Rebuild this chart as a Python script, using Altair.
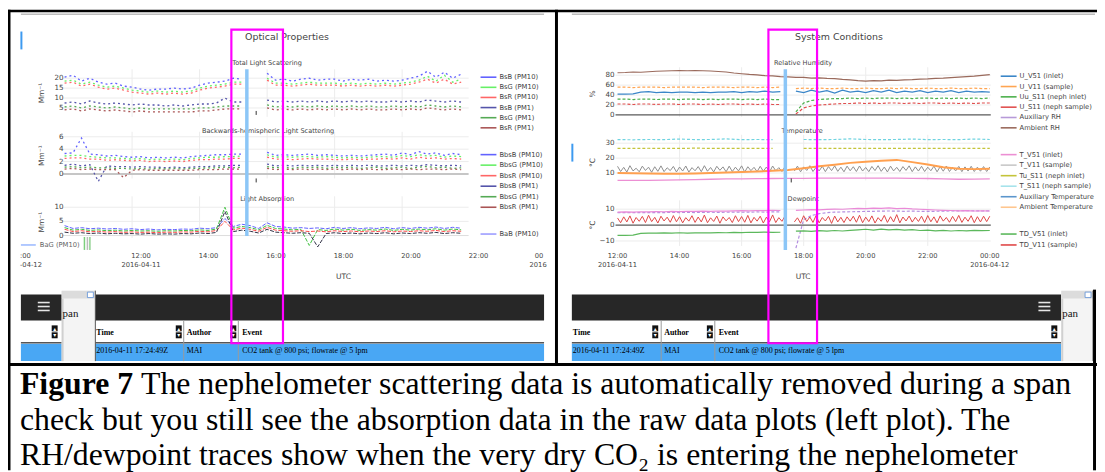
import altair as alt
import pandas as pd

# ===================== values =====================
# ---- left panel "Optical Properties": hours UTC (2016-04-11), one value / 15 min
T_OPT = [10.0 + 0.25 * i for i in range(48)]

SCAT_NAMES = ["BsB (PM10)", "BsG (PM10)", "BsR (PM10)", "BsB (PM1)", "BsG (PM1)", "BsR (PM1)"]
BSC_NAMES = ["BbsB (PM10)", "BbsG (PM10)", "BbsR (PM10)", "BbsB (PM1)", "BbsG (PM1)", "BbsR (PM1)"]
OPT_COLORS = ["#6262ff", "#66f066", "#ff6666", "#5555aa", "#55aa55", "#aa5555"]
ABS_NAMES = ["BaB (PM10)", "BaG (PM10)", "BaR (PM10)", "BaB (PM1)"]
ABS_COLORS = ["#6262ff", "#3fbf3f", "#ff4a4a", "#2f2f45"]

BsB_PM10 = [20.5, 21.5, 18.5, 20.0, 18.0, 17.0, 17.5, 16.0,
            15.5, 14.5, 14.0, 14.5, 14.5, 15.0, 14.5, 15.0,
            16.5, 17.5, 18.0, 18.5, 20.0, 19.5, None, None,
            22.5, 19.0, 19.5, 18.5, 19.5, 20.0, 19.0, 19.5,
            19.5, 18.5, 19.5, 19.0, 19.5, 18.5, 19.0, 18.5,
            19.0, 20.0, 21.0, 23.5, 20.5, 23.0, 20.0, 22.0]
BsG_PM10 = [18.5, 19.0, 17.0, 18.0, 16.5, 15.5, 16.0, 15.0,
            14.0, 13.5, 13.0, 13.5, 13.0, 13.5, 13.0, 13.5,
            15.0, 16.0, 16.5, 17.0, 18.0, 18.0, None, None,
            20.0, 17.5, 17.5, 17.0, 17.5, 18.0, 17.5, 17.5,
            17.5, 17.0, 17.5, 17.0, 17.5, 17.0, 17.5, 17.0,
            17.5, 18.0, 19.0, 21.0, 18.5, 21.5, 18.0, 19.5]
BsR_PM10 = [17.5, 18.0, 16.0, 17.0, 15.5, 14.5, 15.0, 14.0,
            13.0, 12.5, 12.0, 12.5, 12.0, 12.5, 12.0, 12.5,
            14.0, 15.0, 15.5, 16.0, 17.0, 17.0, None, None,
            19.0, 16.5, 16.5, 16.0, 16.5, 17.0, 16.5, 16.5,
            16.5, 16.0, 16.5, 16.0, 16.5, 16.0, 16.5, 16.0,
            16.5, 17.0, 18.0, 19.5, 17.5, 19.5, 17.0, 18.0]
BsB_PM1 = [7.5, 8.0, 7.0, 8.5, 7.5, 7.0, 7.5, 7.0,
           6.5, 7.0, 6.5, 6.5, 6.0, 6.5, 6.0, 6.5,
           7.0, 7.0, 7.5, 10.0, 8.0, 8.0, None, None,
           9.0, 8.0, 8.5, 8.0, 8.5, 8.0, 8.5, 8.0,
           8.5, 8.0, 8.5, 8.0, 8.5, 8.0, 8.0, 8.5,
           8.0, 8.5, 8.0, 9.0, 8.5, 8.0, 8.5, 8.0]
BsG_PM1 = [5.5, 6.0, 5.0, 6.0, 5.5, 5.0, 5.5, 5.0,
           4.5, 5.0, 4.5, 4.5, 4.5, 4.5, 4.5, 4.5,
           5.0, 5.0, 5.5, 6.0, 6.0, 6.0, None, None,
           6.5, 5.5, 6.0, 5.5, 6.0, 5.5, 6.0, 5.5,
           6.0, 5.5, 6.0, 5.5, 6.0, 5.5, 5.5, 6.0,
           5.5, 6.0, 5.5, 6.5, 6.0, 5.5, 6.0, 5.5]
BsR_PM1 = [4.0, 4.5, 3.5, 4.5, 4.0, 3.5, 4.0, 3.5,
           3.0, 3.5, 3.0, 3.0, 3.0, 3.0, 3.0, 3.0,
           3.5, 3.5, 4.0, 4.5, 4.5, 4.5, None, None,
           5.0, 4.0, 4.5, 4.0, 4.5, 4.0, 4.5, 4.0,
           4.5, 4.0, 4.5, 4.0, 4.5, 4.0, 4.0, 4.5,
           4.0, 4.5, 4.0, 5.0, 4.5, 4.0, 4.5, 4.0]

BbsB_PM10 = [3.3, 3.4, 5.8, 3.2, 3.1, 2.9, 3.0, 2.8,
             2.7, 2.8, 2.6, 2.7, 2.6, 2.7, 2.6, 2.8,
             2.9, 3.0, 3.1, 3.1, 3.2, 3.2, None, None,
             3.5, 3.0, 3.1, 3.0, 3.1, 3.2, 3.0, 3.1,
             3.0, 2.9, 3.0, 2.9, 3.0, 3.1, 3.2, 3.0,
             3.4, 3.1, 3.6, 3.2, 3.4, 3.0, 3.3, 3.1]
BbsG_PM10 = [2.9, 3.0, 3.0, 2.8, 2.7, 2.6, 2.6, 2.5,
             2.4, 2.5, 2.3, 2.4, 2.3, 2.4, 2.3, 2.5,
             2.6, 2.7, 2.7, 2.8, 2.8, 2.9, None, None,
             3.1, 2.7, 2.8, 2.7, 2.8, 2.8, 2.7, 2.8,
             2.7, 2.6, 2.7, 2.6, 2.7, 2.8, 2.8, 2.7,
             3.0, 2.8, 3.1, 2.9, 3.0, 2.7, 2.9, 2.8]
BbsR_PM10 = [2.5, 2.6, 2.6, 2.4, 2.4, 2.2, 2.3, 2.2,
             2.1, 2.2, 2.0, 2.1, 2.0, 2.1, 2.0, 2.2,
             2.3, 2.3, 2.4, 2.4, 2.5, 2.5, None, None,
             2.7, 2.4, 2.4, 2.3, 2.4, 2.5, 2.4, 2.4,
             2.3, 2.3, 2.4, 2.3, 2.4, 2.4, 2.5, 2.4,
             2.6, 2.4, 2.7, 2.5, 2.6, 2.4, 2.5, 2.4]
BbsB_PM1 = [1.4, 1.6, 1.3, 1.5, -1.2, 1.3, 1.2, 1.2,
            1.1, 1.2, 1.1, 1.1, 1.0, 1.1, 1.0, 1.1,
            1.2, 1.2, 1.3, 1.3, 1.4, 1.4, None, None,
            1.6, 1.3, 1.4, 1.3, 1.4, 1.3, 1.4, 1.3,
            1.4, 1.3, 1.4, 1.3, 1.4, 1.3, 1.3, 1.4,
            1.3, 1.4, 1.3, 1.5, 1.4, 1.3, 1.4, 1.3]
BbsG_PM1 = [1.1, 1.2, 1.0, 1.1, 1.0, 1.0, 0.9, 0.9,
            0.8, 0.9, 0.8, 0.9, 0.8, 0.9, 0.8, 0.9,
            0.9, 1.0, 1.0, 1.1, 1.0, 1.1, None, None,
            1.2, 1.0, 1.1, 0.9, 1.1, 1.0, 1.1, 0.9,
            1.1, 1.0, 1.1, 0.9, 1.0, 1.1, 0.9, 1.0,
            1.1, 0.9, 1.1, 1.2, 1.0, 1.1, 0.9, 1.0]
BbsR_PM1 = [0.8, 0.9, 0.7, 0.8, 0.7, 0.7, 0.7, -0.6,
            0.6, 0.7, 0.6, 0.6, 0.6, 0.6, 0.6, 0.6,
            0.7, 0.7, 0.7, 0.8, 0.8, 0.8, None, None,
            0.9, 0.7, 0.8, 0.7, 0.8, 0.7, 0.8, 0.7,
            0.8, 0.7, 0.8, 0.7, 0.8, 0.7, 0.7, 0.8,
            0.7, 0.8, 0.7, 0.8, 0.8, 0.7, 0.8, 0.7]

BaB_PM10 = [3.5, 2.5, 2.8, 2.4, 2.6, 2.3, 2.5, 2.2,
            2.4, 2.1, 2.3, 2.0, 2.2, 2.1, 2.3, 2.2,
            2.6, 2.4, 2.8, 6.0, 3.2, 4.0, 3.5, 2.5,
            4.5, 3.2, 3.0, 2.6, 2.8, 2.5, 2.7, 2.4,
            2.9, 2.5, 2.8, 2.4, 2.7, 2.5, 2.9, 2.4,
            2.8, 2.5, 2.9, 2.6, 3.0, 2.5, 2.9, 2.6]
BaG_PM10 = [2.8, 1.9, 2.2, 1.8, 2.0, 1.7, 1.9, 1.6,
            1.8, 1.6, 1.7, 1.5, 1.7, 1.6, 1.8, 1.7,
            2.0, 1.8, 2.3, 10.0, 2.6, 3.2, 2.8, 2.0,
            3.6, 2.5, 2.3, 2.0, 2.2, -3.5, 2.1, 1.8,
            2.3, 1.9, 2.2, 1.8, 2.1, 1.9, 2.3, 1.8,
            2.2, 1.9, 2.3, 2.0, 2.4, 1.9, 2.3, 2.0]
BaR_PM10 = [2.2, 1.4, 1.7, 1.3, 1.5, 1.2, 1.4, 1.1,
            1.3, 1.1, 1.2, 1.0, 1.2, 1.1, 1.3, 1.2,
            1.5, 1.3, 1.8, 5.0, 2.0, 2.6, 2.2, 1.5,
            2.9, 1.9, 1.7, 1.5, 1.7, 1.4, 1.6, 1.3,
            1.7, 1.4, 1.6, 1.3, 1.6, 1.4, 1.7, 1.3,
            1.6, 1.4, 1.7, 1.5, 1.8, 1.4, 1.7, 1.5]
BaB_PM1 = [1.2, 0.8, 1.0, 0.7, 0.9, 0.6, 0.8, 0.6,
           0.7, 0.5, 0.7, 0.5, 0.6, 0.5, 0.7, 0.6,
           0.9, 0.7, 1.1, 8.5, 1.4, 1.9, 1.5, 0.9,
           2.2, 1.2, 1.0, 0.8, 1.0, 0.8, -4.0, 0.7,
           1.0, 0.7, 0.9, 0.6, 0.9, 0.7, 1.0, 0.6,
           0.9, 0.7, 1.0, 0.8, 1.1, 0.7, 1.0, 0.8]

# ---- right panel "System Conditions": hours UTC, 12:00 .. 24:00
T_Q = [12.0 + 0.25 * i for i in range(49)]      # quarter-hourly
T_H = [12.0 + 0.5 * i for i in range(25)]       # half-hourly
T_F = [12.0 + 0.1 * i for i in range(121)]      # 6-minute

RH_NAMES = ["U_V51 (inlet)", "U_V11 (sample)", "Uu_S11 (neph inlet)", "U_S11 (neph sample)",
            "Auxiliary RH", "Ambient RH"]
RH_COLORS = ["#3b86c8", "#ffa552", "#4cb04c", "#e0504f", "#b79ad8", "#9a6a5c"]
U_V51 = [42, 42, 42.5, 46, 47, 45, 46, 45,
         46, 46, 45, 46, 45, 46, 46, 47,
         45, 47, 46, 48, 46, 47, None, 48,
         45, 50, 46, 49, 44, 50, 46, 48,
         45, 49, 46, 50, 45, 48, 46, 49,
         45, 48, 46, 49, 45, 48, 46, 47,
         46]
U_V11 = [56, 56, 55, 56, 56, 56, 55, 56,
         56, 56, 56, 55, 56, 56, 56, 55,
         56, 56, 55, 56, 55, 56, None, 53,
         54, 53, 54, 53, 53, 54, 53, 53,
         54, 53, 53, 54, 53, 54, 53, 53,
         54, 53, 53, 54, 53, 53, 54, 53,
         53]
Uu_S11 = [32, 32, 31, 32, 32, 31, 32, 32,
          31, 32, 32, 31, 32, 31, 32, 32,
          31, 32, 31, 32, 31, 31, None, 6,
          24, 29, 31, 32, 33, 33, 34, 33,
          34, 33, 34, 34, 33, 34, 33, 34,
          34, 33, 34, 33, 34, 33, 34, 33,
          34]
U_S11 = [22, 22, 21, 22, 22, 21, 22, 22,
         21, 22, 22, 21, 22, 21, 22, 22,
         21, 22, 21, 22, 21, 21, None, 2,
         14, 18, 20, 21, 22, 23, 23, 24,
         23, 24, 23, 24, 24, 23, 24, 23,
         24, 24, 23, 24, 23, 24, 23, 24,
         24]
AMB_RH = [85, 85.5, 86.5, 86, 87, 88, 88.5, 89,
          89.5, 89, 89.5, 89, 88.5, 87.5, 86.5, 84.5,
          83, 81.5, 80.5, 79, 78.5, 77, 76.5, 75.5,
          75.5, 74, 74.5, 73.5, 73, 71.5, 70.5, 69,
          68, 69, 68.5, 70, 69.5, 70.5, 71, 72,
          72.5, 73.5, 74, 75, 76, 77, 78, 79.5,
          81]

T_NAMES = ["T_V51 (inlet)", "T_V11 (sample)", "Tu_S11 (neph inlet)", "T_S11 (neph sample)",
           "Auxiliary Temperature", "Ambient Temperature"]
T_COLORS = ["#ec8fd3", "#8e8e8e", "#c4c43a", "#6fd3e0", "#5b96cc", "#ffa04f"]
T_LEG_COLORS = ["#ec8fd3", "#c8c8c8", "#c4c43a", "#a6e3eb", "#5b96cc", "#ffc68e"]
T_V11 = [14.5, 11.0, 13.8, 10.6, 14.9, 11.4, 13.2, 10.8, 14.6, 11.7, 13.9, 10.5, 14.2, 11.1, 14.8, 10.9, 13.5, 11.6, 14.4, 10.7,
         14.0, 11.3, 14.7, 10.6, 13.6, 11.5, 14.3, 10.9, 14.9, 11.2, 13.7, 10.7, 14.5, 11.8, 14.1, 10.8, 14.6, 11.0, 13.9, 11.4,
         14.8, 10.6, 14.2, 11.6, 13.8, 10.9, 14.5, 11.2, 14.0, 10.7, 14.7, 11.5, 13.6, 11.0, 14.4, None, None, 11.3, 14.6, 10.8,
         14.1, 11.7, 14.9, 11.0, 13.8, 11.4, 14.5, 10.9, 14.3, 11.6, 14.8, 11.1, 13.9, 10.8, 14.6, 11.5, 14.2, 11.0, 14.7, 11.3,
         13.7, 10.9, 14.4, 11.6, 14.9, 11.1, 14.0, 10.7, 14.6, 11.4, 13.8, 11.0, 14.3, 11.7, 14.8, 10.9, 14.1, 11.3, 14.5, 11.0,
         13.9, 11.5, 14.6, 10.8, 14.2, 11.2, 14.7, 11.0, 13.8, 11.4, 14.4, 10.9, 14.1, 11.3, 14.5, 11.0, 13.9, 11.2, 14.3, 11.0,
         14.0]
T_V51 = [5.0, 5.0, 5.1, 5.2, 5.4, 5.6, 5.8, 6.0, 6.1, 6.2, 6.3, 6.4, 6.4,
         6.5, 6.5, 6.6, 6.5, 6.6, 6.5, 6.4, 6.3, 6.0, 5.8, 5.9, 6.1]
AMB_T = [10.0, 9.8, 9.6, 9.5, 9.5, 9.7, 10.0, 10.3, 10.6, 11.0, 11.5, 12.0, 13.2,
         14.5, 15.6, 16.8, 17.6, 18.2, 18.8, 17.3, 15.7, 13.9, 12.8, 12.6, 12.8]
Tu_S11 = [26.5, 26.5, 26.6, 26.5, 26.5, 26.7, 26.5, 26.5, 26.6, 26.5, 26.5, None, 26.5,
          26.6, 26.5, 26.5, 26.6, 26.5, 26.5, 26.6, 26.5, 26.5, 26.6, 26.5, 26.5]
T_S11 = [32.4, 32.3, 32.5, 32.4, 32.8, 32.4, 32.5, 32.9, 32.4, 32.5, 32.4, None, 32.5,
         32.4, 32.5, 32.9, 32.5, 32.4, 32.5, 32.8, 32.4, 32.5, 32.4, 32.8, 32.5]

TD_NAMES = ["TD_V51 (inlet)", "TD_V11 (sample)"]
TD_COLORS = ["#5cb85c", "#e04848"]
TD_EXTRA_NAMES = ["Tdu_S11 (neph inlet)", "Td_S11 (neph sample)"]
TD_EXTRA_COLORS = ["#b48ee0", "#ea8ad8"]
TD_V51 = [-6.5, -6.5, -6.3, -5.2, -5.0, -5.1, -4.9, -5.0,
          -4.8, -5.0, -4.9, -4.8, -4.9, -4.7, -4.8, -4.6,
          -4.7, -4.5, -4.6, -4.4, -4.6, -4.5, None, -3.8,
          -3.6, -3.9, -3.5, -3.8, -3.4, -3.7, -3.3, -3.0,
          -2.6, -3.2, -2.5, -3.0, -2.7, -3.1, -2.9, -3.4,
          -3.2, -3.6, -3.3, -3.7, -3.4, -3.6, -3.3, -3.5,
          -3.4]
TD_V11 = [4.5, 1.5, 5.2, 2.0, 5.8, 1.2, 4.8, 2.4, 5.5, 1.6, 6.2, 2.2, 4.9, 1.3, 5.6, 2.6, 5.0, 1.8, 6.0, 2.1,
          5.3, 1.4, 4.7, 2.5, 5.9, 1.7, 5.1, 2.0, 6.3, 1.5, 4.6, 2.3, 5.7, 1.2, 5.2, 2.7, 4.8, 1.6, 5.9, 2.2,
          5.4, 1.8, 6.1, 1.4, 4.9, 2.5, 5.6, 1.3, 5.0, 2.1, 6.4, 1.6, 4.7, 2.4, 5.8, None, None, 2.0, 4.6, 1.2,
          5.9, 2.3, 5.1, 1.7, 6.0, 1.4, 4.8, 2.6, 5.5, 1.1, 5.7, 2.0, 4.9, 1.6, 5.2, 2.5, 5.6, 1.8, 6.2, 1.5,
          5.0, 2.2, 5.8, 1.3, 4.7, 2.4, 6.1, 1.7, 5.3, 2.0, 6.6, 1.4, 5.1, 2.6, 5.7, 1.9, 4.9, 2.3, 5.6, 1.6,
          6.0, 2.1, 5.2, 1.4, 5.8, 2.5, 4.8, 1.8, 5.5, 2.2, 6.1, 1.7, 5.0, 2.4, 5.9, 1.5, 5.3, 2.0, 5.6, 2.2,
          5.6]
TDU_S11 = [7.8, 7.8, 7.9, 7.8, 7.9, 7.8, 7.9, 8.0,
           7.9, 8.0, 7.9, 8.0, 8.1, 8.0, 8.1, 8.2,
           8.1, 8.2, 8.3, 8.2, 8.3, 8.3, None, -14.5,
           3.5, 6.0, 7.2, 7.8, 8.2, 8.3, 8.4, 8.5,
           8.6, 8.7, 8.8, 8.9, 8.8, 8.7, 8.8, 8.7,
           8.6, 8.7, 8.8, 8.9, 9.0, 9.1, 9.0, 8.9,
           9.0]
TD_S11 = [8.2, 8.3, 8.2, 8.4, 8.3, 8.5, 8.4, 8.6,
          8.5, 8.7, 8.6, 8.8, 8.7, 8.9, 8.8, 9.0,
          9.1, 9.0, 9.2, 9.1, 9.3, 9.2, None, 9.3,
          9.5, 9.7, 9.6, 9.9, 10.1, 10.0, 10.3, 10.5,
          10.4, 10.7, 10.5, 10.8, 10.4, 10.6, 10.2, 10.0,
          9.8, 9.5, 9.3, 9.2, 9.0, 9.1, 8.9, 9.0,
          8.9]

# ---- axes, hover times, table and caption text
OPT_GRID_H = [12, 14, 16, 18, 20]
OPT_TICK_H = [12, 14, 16, 18, 20, 22]
OPT_TICK_LAB = ["12:00", "14:00", "16:00", "18:00", "20:00", "22:00"]
SYS_GRID_H = [14, 16, 18, 20, 22]
SYS_TICK_H = [12, 14, 16, 18, 20, 22, 24]
SYS_TICK_LAB = ["12:00", "14:00", "16:00", "18:00", "20:00", "22:00", "00:00"]
HOVER_OPT = [15.4]
HOVER_SYS = [17.41]
TABLE_HEAD = ["Time", "Author", "Event"]
EVENT_ROW = ["2016-04-11 17:24:49Z", "MAI", "CO2 tank @ 800 psi; flowrate @ 5 lpm"]
CAPTION = ["The nephelometer scattering data is automatically removed during a span",
           "check but you still see the absorption data in the raw data plots (left plot).  The",
           "RH/dewpoint traces show when the very dry CO\u2082 is entering the nephelometer"]

# ===================== helpers =====================
W, H = 1097, 464
OFF = 8
SANS = "DejaVu Sans"
SERIF = "Liberation Serif"
TXT = "#444444"
ONE = pd.DataFrame({"k": [0]})
layers = []


def vx(x):
    return alt.value(x - OFF)


def vy(y):
    return alt.value(y - OFF)


def lin(domain, r0, r1):
    return alt.Scale(domain=domain, range=[r0 - OFF, r1 - OFF], nice=False, zero=False)


def long_df(times, series):
    rows = []
    for name, vals in series.items():
        if len(vals) != len(times):
            raise ValueError(f"{name}: {len(vals)} values for {len(times)} times")
        seg = 0
        for t, v in zip(times, vals):
            if v is None:
                seg += 1
                continue
            rows.append({"h": t, "v": v, "series": name, "seg": f"{name}|{seg}"})
    return pd.DataFrame(rows)


def lines(df, xs, ys, names, colors, width=1.0, dash=None):
    kw = dict(strokeWidth=width)
    if dash:
        kw["strokeDash"] = dash
    layers.append(alt.Chart(df).mark_line(**kw).encode(
        x=alt.X("h:Q", scale=xs, axis=None),
        y=alt.Y("v:Q", scale=ys, axis=None),
        color=alt.Color("series:N", scale=alt.Scale(domain=names, range=colors), legend=None),
        detail="seg:N"))


def rect(x1, y1, x2, y2, fill, stroke=None, sw=0.0, fill_opacity=1.0):
    kw = dict(fill=fill, fillOpacity=fill_opacity, strokeWidth=sw)
    if stroke is not None:
        kw["stroke"] = stroke
    layers.append(alt.Chart(ONE).mark_rect(**kw).encode(x=vx(x1), x2=vx(x2), y=vy(y1), y2=vy(y2)))


def hline(x1, x2, y, color, w=1.0):
    layers.append(alt.Chart(ONE).mark_rule(color=color, strokeWidth=w).encode(x=vx(x1), x2=vx(x2), y=vy(y)))


def vline(x, y1, y2, color, w=1.0):
    layers.append(alt.Chart(ONE).mark_rule(color=color, strokeWidth=w).encode(x=vx(x), y=vy(y1), y2=vy(y2)))


def text(s, x, y, size, color=TXT, align="center", font=SANS, weight="normal", angle=0, baseline="middle"):
    layers.append(alt.Chart(ONE).mark_text(text=s, align=align, baseline=baseline, fontSize=size, font=font,
                                           fontWeight=weight, color=color, angle=angle)
                  .encode(x=vx(x), y=vy(y)))


def hgrid(vals, ys, x1, x2, color="#ececec", w=1.0):
    layers.append(alt.Chart(pd.DataFrame({"v": vals})).mark_rule(color=color, strokeWidth=w).encode(
        x=vx(x1), x2=vx(x2), y=alt.Y("v:Q", scale=ys, axis=None)))


def vgrid(hours, xs, y1, y2, color="#ececec", w=1.0):
    layers.append(alt.Chart(pd.DataFrame({"h": hours})).mark_rule(color=color, strokeWidth=w).encode(
        x=alt.X("h:Q", scale=xs, axis=None), y=vy(y1), y2=vy(y2)))


def ylabels(vals, labs, ys, xr, size=7.2):
    layers.append(alt.Chart(pd.DataFrame({"v": vals, "lab": labs})).mark_text(
        align="right", baseline="middle", fontSize=size, font=SANS, color=TXT).encode(
        x=vx(xr), y=alt.Y("v:Q", scale=ys, axis=None), text="lab:N"))


def xlabels(hours, labs, xs, y, dx=0.0, size=6.8):
    layers.append(alt.Chart(pd.DataFrame({"h": hours, "lab": labs})).mark_text(
        align="center", baseline="middle", fontSize=size, font=SANS, color=TXT, dx=dx).encode(
        x=alt.X("h:Q", scale=xs, axis=None), y=vy(y), text="lab:N"))


def legend(names, colors, sx1, sx2, tx, y_first, y_last, size=6.8):
    d = pd.DataFrame({"series": names})
    ysc = alt.Scale(type="point", domain=names, range=[y_first - OFF, y_last - OFF], padding=0)
    col = alt.Color("series:N", scale=alt.Scale(domain=names, range=colors), legend=None)
    layers.append(alt.Chart(d).mark_rule(strokeWidth=1.6).encode(
        x=vx(sx1), x2=vx(sx2), y=alt.Y("series:N", scale=ysc, axis=None), color=col))
    layers.append(alt.Chart(d).mark_text(align="left", baseline="middle", fontSize=size, font=SANS,
                                         color=TXT).encode(
        x=vx(tx), y=alt.Y("series:N", scale=ysc, axis=None), text="series:N"))


def sort_icon(x, y):
    rect(x, y, x + 6, y + 6, "#111111")
    rect(x, y + 7, x + 6, y + 13, "#111111")
    text("\u25b4", x + 3, y + 3.2, 6, "#ffffff")
    text("\u25be", x + 3, y + 10, 6, "#ffffff")


# ===================== scales =====================
XS_OPT = lin([12, 24], 133, 541)
YS_SCAT = lin([0, 20], 117, 77)
YS_BSC = lin([0, 6], 173.5, 136)
YS_ABS = lin([0, 10], 235.5, 207)
XS_SYS = lin([12, 24], 622, 997)
YS_RH = lin([0, 80], 114, 74)
YS_T = lin([10, 30], 172.5, 142.5)
YS_TD = lin([-10, 10], 241, 209)

# ===================== grids =====================
hgrid([5, 10, 15, 20], YS_SCAT, 63, 472)
vgrid(OPT_GRID_H, XS_OPT, 68, 116)
hgrid([2, 4, 6], YS_BSC, 63, 472)
vgrid(OPT_GRID_H, XS_OPT, 131, 178)
hgrid([0], YS_BSC, 63, 472, "#c6c6c6", 2.2)
hgrid([5, 10], YS_ABS, 63, 472)
vgrid(OPT_GRID_H, XS_OPT, 196, 238)
hgrid([0], YS_ABS, 63, 472, "#dddddd", 1.0)

hgrid([20, 40, 60, 80], YS_RH, 620, 998)
vgrid(SYS_GRID_H, XS_SYS, 66, 116)
hgrid([10, 20, 30], YS_T, 620, 998)
vgrid(SYS_GRID_H, XS_SYS, 134, 180)
hgrid([-10, 10], YS_TD, 620, 998)
vgrid(SYS_GRID_H, XS_SYS, 200, 246)
hgrid([0], YS_RH, 620, 998, "#5a5a5a", 1.4)
hgrid([0], YS_TD, 620, 998, "#5a5a5a", 1.4)

# ===================== data =====================
scat = long_df(T_OPT, dict(zip(SCAT_NAMES, [BsB_PM10, BsG_PM10, BsR_PM10, BsB_PM1, BsG_PM1, BsR_PM1])))
lines(scat, XS_OPT, YS_SCAT, SCAT_NAMES, OPT_COLORS, 1.3, [2, 3])
bsc = long_df(T_OPT, dict(zip(BSC_NAMES, [BbsB_PM10, BbsG_PM10, BbsR_PM10, BbsB_PM1, BbsG_PM1, BbsR_PM1])))
lines(bsc, XS_OPT, YS_BSC, BSC_NAMES, OPT_COLORS, 1.3, [2, 3])
absn = long_df(T_OPT, dict(zip(ABS_NAMES, [BaB_PM10, BaG_PM10, BaR_PM10, BaB_PM1])))
lines(absn, XS_OPT, YS_ABS, ABS_NAMES, ABS_COLORS, 1.0, [4, 1.5])

rh_solid = long_df(T_Q, {RH_NAMES[0]: U_V51, RH_NAMES[5]: AMB_RH})
lines(rh_solid, XS_SYS, YS_RH, RH_NAMES, RH_COLORS, 1.2)
rh_dash = long_df(T_Q, {RH_NAMES[1]: U_V11, RH_NAMES[2]: Uu_S11, RH_NAMES[3]: U_S11})
lines(rh_dash, XS_SYS, YS_RH, RH_NAMES, RH_COLORS, 1.2, [3, 2])

t_dash = long_df(T_H, {T_NAMES[2]: Tu_S11, T_NAMES[3]: T_S11})
lines(t_dash, XS_SYS, YS_T, T_NAMES, T_COLORS, 1.2, [3, 2])
t_fast = long_df(T_F, {T_NAMES[1]: T_V11})
lines(t_fast, XS_SYS, YS_T, T_NAMES, T_COLORS, 1.0)
t_pink = long_df(T_H, {T_NAMES[0]: T_V51})
lines(t_pink, XS_SYS, YS_T, T_NAMES, T_COLORS, 1.3)
t_amb = long_df(T_H, {T_NAMES[5]: AMB_T})
lines(t_amb, XS_SYS, YS_T, T_NAMES, T_COLORS, 2.0)

td_dash = long_df(T_Q, {TD_EXTRA_NAMES[0]: TDU_S11})
lines(td_dash, XS_SYS, YS_TD, TD_EXTRA_NAMES, TD_EXTRA_COLORS, 1.2, [3, 2])
td_pink = long_df(T_Q, {TD_EXTRA_NAMES[1]: TD_S11})
lines(td_pink, XS_SYS, YS_TD, TD_EXTRA_NAMES, TD_EXTRA_COLORS, 1.2)
td_green = long_df(T_Q, {TD_NAMES[0]: TD_V51})
lines(td_green, XS_SYS, YS_TD, TD_NAMES, TD_COLORS, 1.2)
td_red = long_df(T_F, {TD_NAMES[1]: TD_V11})
lines(td_red, XS_SYS, YS_TD, TD_NAMES, TD_COLORS, 1.0)

# ===================== axes text =====================
ylabels([5, 10, 15, 20], ["5", "10", "15", "20"], YS_SCAT, 64)
ylabels([0, 2, 4, 6], ["0", "2", "4", "6"], YS_BSC, 64)
ylabels([0, 5, 10], ["0", "5", "10"], YS_ABS, 64)
ylabels([0, 20, 40, 60, 80], ["0", "20", "40", "60", "80"], YS_RH, 619)
ylabels([10, 20, 30], ["10", "20", "30"], YS_T, 619)
ylabels([-10, 0, 10], ["\u221210", "0", "10"], YS_TD, 619)

for yy in (92, 155, 222):
    text("Mm\u207b\u00b9", 42, yy, 7.5, angle=270)
text("%", 597, 93, 7.5, angle=270)
text("\u00b0C", 597, 162, 7.5, angle=270)
text("\u00b0C", 597, 225, 7.5, angle=270)

text("Optical Properties", 289, 36, 9.5)
text("System Conditions", 845, 36, 9.5)
text("Total Light Scattering", 269, 62, 6.6)
text("Backwards-hemispheric Light Scattering", 270, 130, 6.6)
text("Light Absorption", 269, 199, 6.6)
text("Relative Humidity", 809, 62, 6.6)
text("Temperature", 808, 130, 6.6)
text("Dewpoint", 809, 199, 6.6)

xlabels(OPT_TICK_H, OPT_TICK_LAB, XS_OPT, 256, dx=9)
xlabels([12], ["2016-04-11"], XS_OPT, 265, dx=9)
xlabels([24], ["00"], XS_OPT, 256, dx=2)
xlabels([24], ["2016"], XS_OPT, 265, dx=1)
text(":00", 20, 256, 6.8, align="left")
text("-04-12", 20, 265, 6.8, align="left")
text("UTC", 346, 277, 7.6)
xlabels(SYS_TICK_H, SYS_TICK_LAB, XS_SYS, 256)
xlabels([12, 24], ["2016-04-11", "2016-04-12"], XS_SYS, 265)
text("UTC", 809, 277, 7.6)

# ===================== legends =====================
legend(SCAT_NAMES, OPT_COLORS, 484, 500, 503, 76, 127)
legend(BSC_NAMES, OPT_COLORS, 484, 500, 503, 154, 207)
hline(484, 500, 234, "#9c9cff", 1.6)
text("BaB (PM10)", 503, 234, 6.8, align="left")
hline(21, 36, 245, "#9fbcff", 1.6)
text("BaG (PM10)", 40, 245, 6.8, color="#666666", align="left")
vline(85, 237, 250, "#7ccf7c", 1.5)
vline(88, 237, 250, "#bbbbbb", 1.5)
vline(90.5, 237, 250, "#8fd18f", 1.5)
legend(RH_NAMES, RH_COLORS, 1008, 1024, 1027, 75, 127)
legend(T_NAMES, T_LEG_COLORS, 1008, 1024, 1027, 154, 207)
legend(TD_NAMES, TD_COLORS, 1008, 1024, 1027, 234, 245)

# ===================== hover spike lines and small marks =====================
layers.append(alt.Chart(pd.DataFrame({"h": HOVER_OPT})).mark_rule(color="#8cc6f7", strokeWidth=3.5).encode(
    x=alt.X("h:Q", scale=XS_OPT, axis=None), y=vy(68), y2=vy(236)))
layers.append(alt.Chart(pd.DataFrame({"h": HOVER_SYS})).mark_rule(color="#8cc6f7", strokeWidth=3.5).encode(
    x=alt.X("h:Q", scale=XS_SYS, axis=None), y=vy(68), y2=vy(250)))
vline(258, 110, 114, "#333333")
vline(258, 178, 182, "#333333")
vline(797, 178, 182, "#333333")
vline(21.5, 30, 48, "#3d9af0", 2)
vline(576.5, 143, 161, "#3d9af0", 2)
hline(21, 548, 12.5, "#9a9a9a", 1)
hline(576, 1103, 12.5, "#9a9a9a", 1)

# ===================== event tables =====================
BLUE = "#49a7f4"
for (x0, x1, ham, c_author, c_event, icons, dividers) in [
        (21, 548, 38, 188, 244, [52, 177, 232], [185, 240]),
        (576, 1069, 1046, 669, 724, [657, 712, 1059], [666, 720])]:
    tx = x0 + 76 if x0 == 21 else x0 + 1
    rect(x0, 295, x1, 321, "#272727")
    for yy in (303, 307, 311):
        hline(ham, ham + 12, yy, "#e6e6e6", 1.6)
    rect(x0, 344.5, x1, 362, BLUE)
    hline(x0, x1, 343.5, "#555555", 1.5)
    for dvx in dividers:
        vline(dvx, 321, 362, "#9a9a9a", 1)
    for ix in icons:
        sort_icon(ix, 326)
    text(TABLE_HEAD[0], tx, 334, 8, "#000000", "left", SERIF, "bold")
    text(TABLE_HEAD[1], c_author, 334, 8, "#000000", "left", SERIF, "bold")
    text(TABLE_HEAD[2], c_event, 334, 8, "#000000", "left", SERIF, "bold")
    text(EVENT_ROW[0], tx, 352, 8, "#000000", "left", SERIF)
    text(EVENT_ROW[1], c_author, 352, 8, "#000000", "left", SERIF)
    text(EVENT_ROW[2], c_event, 352, 8, "#000000", "left", SERIF)

for (ox0, ox1) in [(62, 96), (1069, 1101)]:
    rect(ox0, 291, ox1, 362, "#f4f4f4")
    rect(ox0, 291, ox1, 299, "#dcdcdc")
    rect(ox1 - 8, 292.5, ox1 - 2, 298, "#ffffff", "#5b8fd6", 0.8)
    vline(ox0 + 1, 299, 362, "#d0d0d0", 2)
    vline(ox1, 291, 362, "#555555", 1)
    text("pan", ox0 + 1, 315, 11, "#111111", "left", SERIF)

# ===================== caption =====================
text("Figure 7", 20, 395, 32, "#000000", "left", SERIF, "bold", baseline="alphabetic")
text(CAPTION[0], 142, 395, 32, "#000000", "left", SERIF, baseline="alphabetic")
text(CAPTION[1], 20, 431, 32, "#000000", "left", SERIF, baseline="alphabetic")
text(CAPTION[2], 20, 467, 32, "#000000", "left", SERIF, baseline="alphabetic")

# ===================== frames =====================
rect(8, 8, 1105, 10.5, "#000000")
rect(8, 8, 10.5, 472, "#000000")
rect(559, 8, 562, 366, "#000000")
rect(8, 364, 1105, 367, "#000000")
rect(1101, 290, 1104, 472, "#000000")

# ===================== annotation boxes =====================
rect(233, 28, 285, 344, "#ffffff", "#ff00ff", 2.2, 0.0)
rect(774, 28, 823, 344, "#ffffff", "#ff00ff", 2.2, 0.0)

chart = (alt.layer(*layers)
         .resolve_scale(x="independent", y="independent", color="independent")
         .properties(width=W, height=H, padding=0, background="#ffffff",
                     autosize=alt.AutoSizeParams(type="none"))
         .configure_view(strokeWidth=0))

chart.save("out.html", embed_options={"renderer": "svg", "actions": False})
